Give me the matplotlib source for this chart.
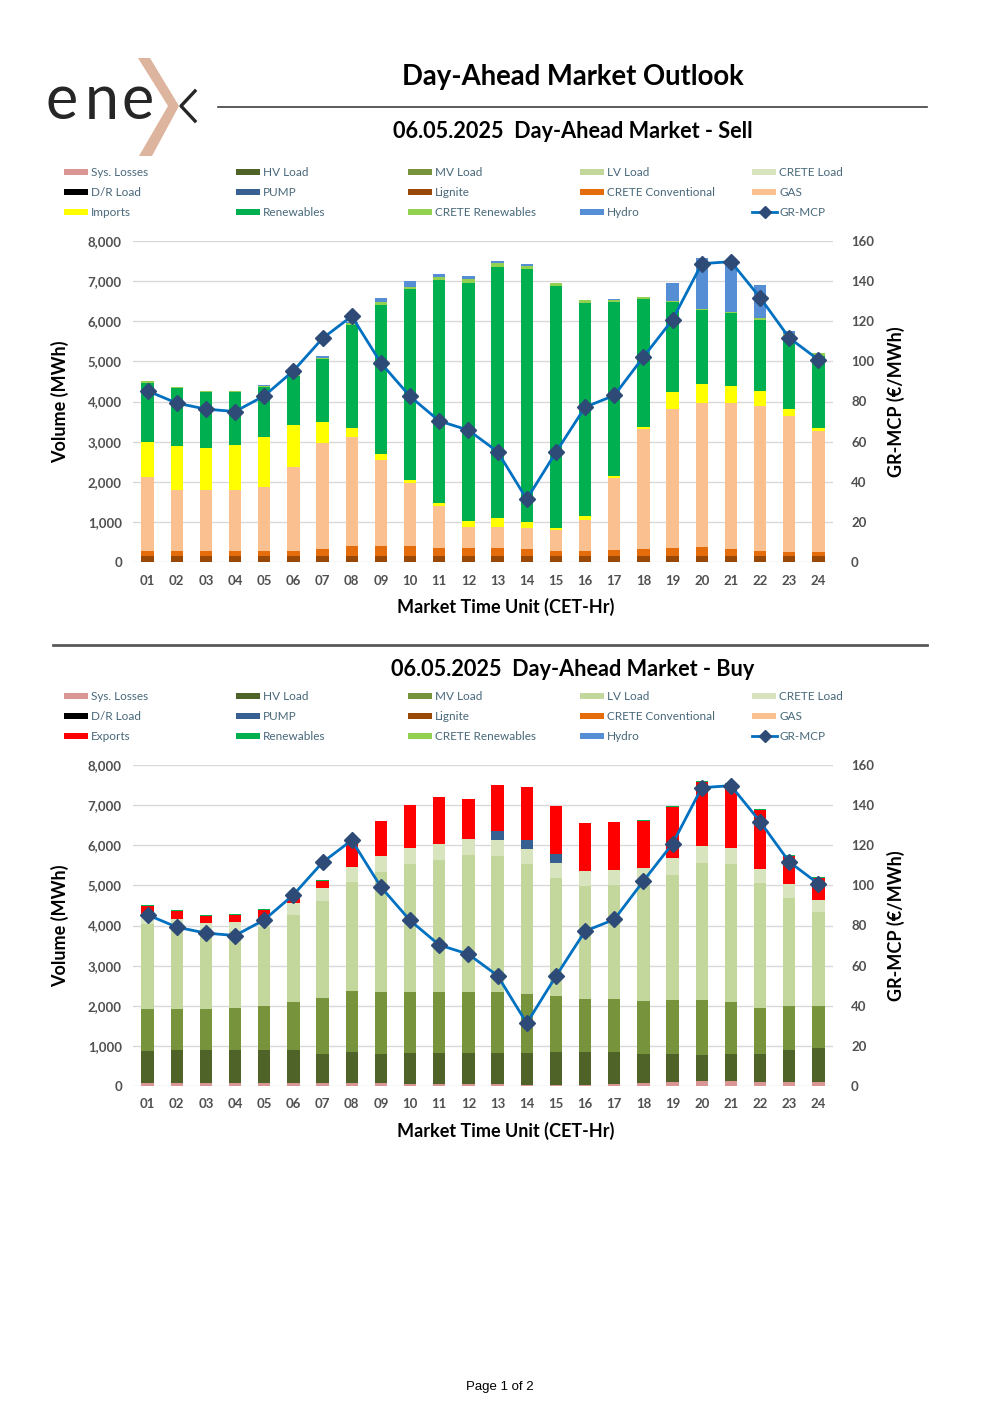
import matplotlib
matplotlib.use('Agg')
import matplotlib.pyplot as plt
import numpy as np
from matplotlib.patches import Rectangle, Polygon
from matplotlib.lines import Line2D
from matplotlib.ticker import FuncFormatter, MultipleLocator

plt.rcParams['font.family'] = ['Lato', 'DejaVu Sans']

# ---------------- data ----------------
hours = [f"{h:02d}" for h in range(1, 25)]
mcp = [85.3, 79.2, 76.2, 75.0, 82.8, 95.3, 111.5, 122.5, 99.2, 82.5, 70.3, 65.7,
       55.0, 31.3, 54.7, 77.2, 83.0, 102.2, 120.8, 148.7, 149.7, 131.8, 111.7, 100.8]

# Sell side (MWh)
sell_lignite = [140] * 24
sell_crete_conv = [127, 127, 127, 127, 127, 135, 177, 252, 252, 252, 218, 210,
                   210, 193, 135, 135, 152, 193, 218, 235, 193, 143, 118, 102]
sell_gas = [1850, 1525, 1525, 1525, 1600, 2083, 2641, 2716, 2150, 1566, 1034, 525,
            525, 525, 533, 783, 1791, 2984, 3459, 3600, 3625, 3617, 3384, 3033]
sell_imports = [883, 1108, 1058, 1125, 1258, 1059, 542, 225, 150, 84, 83, 142,
                233, 142, 50, 84, 59, 58, 416, 450, 417, 358, 175, 67]
sell_renewables = [1458, 1433, 1375, 1308, 1233, 1208, 1558, 2584, 3725, 4766, 5542, 5941,
                   6250, 6292, 6017, 5316, 4350, 3183, 2242, 1850, 1833, 1784, 1825, 1800]
sell_crete_ren = [42, 27, 33, 33, 34, 35, 32, 33, 58, 50, 75, 84,
                  100, 83, 83, 67, 50, 42, 33, 33, 34, 41, 33, 66]
sell_hydro = [10, 10, 7, 7, 8, 40, 35, 25, 108, 142, 91, 91,
              50, 58, 7, 5, 6, 5, 434, 1275, 1283, 809, 75, 7]

# Buy side (MWh)
buy_sys_losses = [67, 67, 67, 67, 67, 67, 83, 75, 67, 42, 42, 42,
                  42, 33, 33, 33, 42, 83, 100, 125, 125, 108, 100, 92]
buy_hv = [808, 833, 833, 833, 833, 825, 717, 783, 733, 775, 791, 791,
          791, 800, 809, 809, 816, 709, 700, 650, 675, 684, 800, 850]
buy_mv = [1050, 1025, 1025, 1042, 1083, 1200, 1383, 1500, 1533, 1516, 1500, 1509,
          1500, 1467, 1391, 1333, 1317, 1316, 1333, 1358, 1292, 1150, 1083, 1041]
buy_lv = [2100, 2000, 1933, 1933, 1975, 2158, 2417, 2725, 3000, 3192, 3292, 3416,
          3400, 3225, 2959, 2808, 2825, 2975, 3125, 3417, 3433, 3108, 2709, 2359]
buy_crete = [267, 225, 209, 217, 234, 300, 342, 384, 409, 408, 400, 392,
             400, 375, 366, 375, 383, 359, 425, 433, 408, 350, 350, 283]
buy_pump = [0, 0, 0, 0, 0, 0, 0, 0, 0, 0, 0, 0,
            225, 233, 233, 0, 0, 0, 0, 0, 0, 0, 0, 0]
buy_exports = [183, 208, 175, 166, 183, 158, 166, 666, 866, 1075, 1167, 992,
               1150, 1309, 1183, 1192, 1184, 1166, 1259, 1584, 1592, 1475, 691, 567]
buy_renewables = [33, 34, 25, 22, 25, 17, 17, 17, 0, 0, 0, 0,
                  0, 0, 0, 0, 16, 17, 25, 25, 15, 25, 25, 25]

# legend entries
legend_sell = ["Sys. Losses", "HV Load", "MV Load", "LV Load", "CRETE Load",
               "D/R Load", "PUMP", "Lignite", "CRETE Conventional", "GAS",
               "Imports", "Renewables", "CRETE Renewables", "Hydro", "GR-MCP"]
legend_buy = ["Sys. Losses", "HV Load", "MV Load", "LV Load", "CRETE Load",
              "D/R Load", "PUMP", "Lignite", "CRETE Conventional", "GAS",
              "Exports", "Renewables", "CRETE Renewables", "Hydro", "GR-MCP"]

COL = {
    "Sys. Losses": "#DA9694", "HV Load": "#4F6228", "MV Load": "#77933C",
    "LV Load": "#C3D69B", "CRETE Load": "#D7E4BD", "D/R Load": "#000000",
    "PUMP": "#376092", "Lignite": "#984807", "CRETE Conventional": "#E46C0A",
    "GAS": "#FAC090", "Imports": "#FFFF00", "Exports": "#FF0000",
    "Renewables": "#00B050", "CRETE Renewables": "#92D050", "Hydro": "#558ED5",
}
LINE_C = "#0070C0"
MARK_C = "#2E4B78"

W, H = 1000, 1415
fig = plt.figure(figsize=(W / 100, H / 100), dpi=100)


def fx(px):
    return px / W


def fy(py):
    return 1 - py / H


TICK_C = "#505050"
LEG_C = "#48687A"

# ---------------- header ----------------
# logo
for ch, x0 in (("e", 45), ("n", 85), ("e", 121)):
    fig.text(fx(x0), fy(119), ch, fontsize=44, fontweight='normal', color="#262626",
             ha='left', va='baseline')
fig.add_artist(Polygon([(fx(138), fy(58)), (fx(150), fy(58)), (fx(179), fy(106)),
                        (fx(152), fy(156)), (fx(139), fy(156)), (fx(168), fy(106))],
                       closed=True, transform=fig.transFigure, facecolor="#DDB49D",
                       edgecolor='none'))
fig.add_artist(Line2D([fx(195), fx(181), fx(195)], [fy(91), fy(106), fy(121)],
                      transform=fig.transFigure, color="#262626", lw=2.4))

fig.text(fx(573), fy(77), "Day-Ahead Market Outlook", fontsize=19.8, fontweight='bold',
         ha='center', va='center', color='black')
fig.add_artist(Line2D([fx(218), fx(927)], [fy(107), fy(107)], transform=fig.transFigure,
                      color="#404040", lw=1.2))
fig.add_artist(Line2D([fx(53), fx(927)], [fy(645), fy(645)], transform=fig.transFigure,
                      color="#595959", lw=2.0))

fig.text(fx(500), fy(1387), "Page 1 of 2", fontsize=9.5, family=['Liberation Sans'],
         ha='center', va='center', color='black')


def draw_legend(y0, labels):
    for i, lab in enumerate(labels):
        r, c = divmod(i, 5)
        x = 64 + 172 * c
        y = y0 + 20 * r
        if lab == "GR-MCP":
            fig.add_artist(Line2D([fx(x), fx(x + 25)], [fy(y), fy(y)],
                                  transform=fig.transFigure, color=LINE_C, lw=2))
            fig.add_artist(Line2D([fx(x + 12.5)], [fy(y)], transform=fig.transFigure,
                                  marker='D', markersize=6, color=MARK_C, lw=0))
        else:
            fig.add_artist(Rectangle((fx(x), fy(y + 3)), 24 / W, 6 / H,
                                     transform=fig.transFigure, facecolor=COL[lab],
                                     edgecolor='none'))
        fig.text(fx(x + 27), fy(y), lab, fontsize=8.5, color=LEG_C, ha='left', va='center')


def draw_chart(top_px, title, title_y, legend_y, stacks, labels):
    ax = fig.add_axes([fx(133), fy(top_px + 321), 700 / W, 321 / H])
    x = np.arange(1, 25)
    bottom = np.zeros(24)
    for name, vals in stacks:
        v = np.array(vals, dtype=float)
        ax.bar(x, v, width=0.42, bottom=bottom, color=COL[name], edgecolor='none', zorder=2)
        bottom += v
    ax.set_xlim(0.5, 24.5)
    ax.set_ylim(0, 8000)
    ax.yaxis.set_major_locator(MultipleLocator(1000))
    ax.yaxis.set_major_formatter(FuncFormatter(lambda v, p: f"{int(v):,}"))
    ax.grid(axis='y', color="#D9D9D9", lw=1.0, zorder=0)
    ax.set_axisbelow(True)
    ax.set_xticks(x)
    ax.set_xticklabels(hours)
    for s in ax.spines.values():
        s.set_visible(False)
    ax.tick_params(axis='both', length=0, colors=TICK_C, labelsize=9.5)
    ax.tick_params(axis='y', pad=8)
    ax.tick_params(axis='x', pad=9)
    for t in ax.get_xticklabels() + ax.get_yticklabels():
        t.set_fontweight('bold')
    ax.set_ylabel("Volume (MWh)", fontsize=13, fontweight='bold', color='black')
    ax.yaxis.set_label_coords(-64 / 700, 0.5)
    ax.set_xlabel("Market Time Unit (CET-Hr)", fontsize=13, fontweight='bold',
                  color='black')
    ax.xaxis.set_label_coords((506 - 133) / 700, -36 / 321)

    axr = ax.twinx()
    axr.set_ylim(0, 160)
    axr.yaxis.set_major_locator(MultipleLocator(20))
    axr.plot(x, mcp, color=LINE_C, lw=2.0, marker='D', markersize=8.5,
             markerfacecolor=MARK_C, markeredgecolor=MARK_C, zorder=5)
    for s in axr.spines.values():
        s.set_visible(False)
    axr.tick_params(axis='y', length=0, colors=TICK_C, labelsize=9.5, pad=13)
    for t in axr.get_yticklabels():
        t.set_fontweight('bold')
    axr.set_ylabel("GR-MCP (€/MWh)", fontsize=13, fontweight='bold', color='black',
                   labelpad=9)

    fig.text(fx(573), fy(title_y), title, fontsize=15.6, fontweight='bold',
             ha='center', va='center', color='black')
    draw_legend(legend_y, labels)


sell_stacks = [("Lignite", sell_lignite), ("CRETE Conventional", sell_crete_conv),
               ("GAS", sell_gas), ("Imports", sell_imports),
               ("Renewables", sell_renewables), ("CRETE Renewables", sell_crete_ren),
               ("Hydro", sell_hydro)]
buy_stacks = [("Sys. Losses", buy_sys_losses), ("HV Load", buy_hv), ("MV Load", buy_mv),
              ("LV Load", buy_lv), ("CRETE Load", buy_crete), ("PUMP", buy_pump),
              ("Exports", buy_exports), ("Renewables", buy_renewables)]

draw_chart(241, "06.05.2025  Day-Ahead Market - Sell", 131, 172, sell_stacks, legend_sell)
draw_chart(765, "06.05.2025  Day-Ahead Market - Buy", 669, 696, buy_stacks, legend_buy)

fig.savefig("out.png", dpi=100)
